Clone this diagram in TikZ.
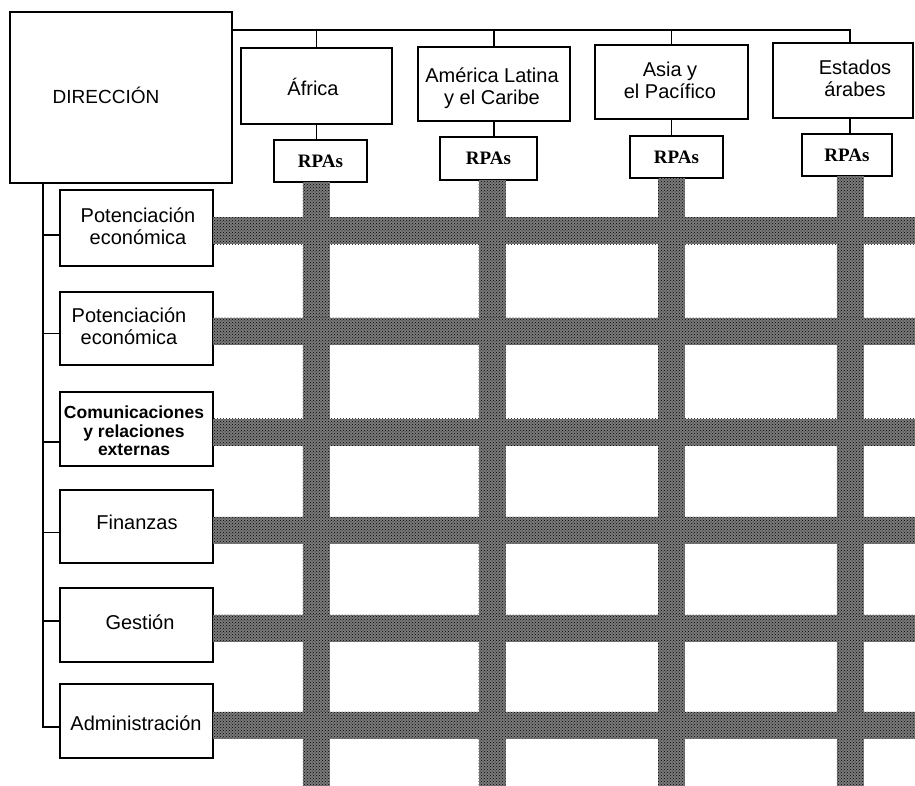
\documentclass[tikz,border=0pt]{standalone}
\usepackage{fontspec}
\setmainfont{Liberation Sans}
\newfontfamily\rpafont{Liberation Serif}
\usetikzlibrary{calc,patterns}

\tikzset{
  box/.style={draw, line width=1.5pt, inner sep=0pt, outer sep=0pt},
  conn/.style={line width=1.2pt},
  lbl/.style={inner sep=0pt, align=center, font=\fontsize{20}{22}\selectfont},
  rpa/.style={box, font=\rpafont\bfseries\fontsize{19}{21}\selectfont},
  band/.style={fill=black!52, draw=none},
  grain/.style={pattern=crosshatch dots, pattern color=black}
}

\begin{document}
\begin{tikzpicture}[x=1pt,y=-1pt]
\useasboundingbox (0,0) rectangle (915,786);

% ---- top row: direction and regional bureaus
\node[box, minimum width=222pt, minimum height=171pt] (dir) at (121,97.5) {};
\node[lbl, font=\fontsize{19}{21}\selectfont] (tdir) at (106,95) {DIRECCIÓN};

\node[box, minimum width=151pt, minimum height=76pt] (afr) at (316.5,86) {};
\node[box, minimum width=152pt, minimum height=74pt] (alc) at (494,84) {};
\node[box, minimum width=153pt, minimum height=74pt] (asp) at (671.5,82) {};
\node[box, minimum width=140pt, minimum height=75pt] (est) at (843,80.5) {};

\node[lbl] (tafr) at (313,87) {África};
\node[lbl] (talc) at (492,88) {América Latina\\y el Caribe};
\node[lbl] (tasp) at (670,80) {Asia y\\el Pacífico};
\node[lbl] (test) at (855,78) {Estados\\árabes};

% ---- RPAs boxes
\node[rpa, minimum width=93pt, minimum height=42pt] (rafr) at (320.5,161) {RPAs};
\node[rpa, minimum width=97pt, minimum height=43pt] (ralc) at (488.5,158.5) {RPAs};
\node[rpa, minimum width=93pt, minimum height=42pt] (rasp) at (676.5,157) {RPAs};
\node[rpa, minimum width=90pt, minimum height=42pt] (rest) at (847,155) {RPAs};

% ---- connectors of the top row
\coordinate (topR) at (850,30);
\draw[conn] (dir.east |- topR) -- (topR) -- (topR |- est.north);
\draw[conn] (afr.north) -- (afr.north |- topR);
\draw[conn] (alc.north) -- (alc.north |- topR);
\draw[conn] (asp.north) -- (asp.north |- topR);
\draw[conn] (afr.south) -- (afr.south |- rafr.north);
\draw[conn] (alc.south) -- (alc.south |- ralc.north);
\draw[conn] (asp.south) -- (asp.south |- rasp.north);
\draw[conn] (topR |- est.south) -- (topR |- rest.north);

% ---- thematic divisions
\node[box, minimum width=153pt, minimum height=76pt] (b1) at (136.5,228) {};
\node[box, minimum width=153pt, minimum height=73pt] (b2) at (136.5,328.5) {};
\node[box, minimum width=153pt, minimum height=74pt] (b3) at (136.5,429) {};
\node[box, minimum width=153pt, minimum height=73pt] (b4) at (136.5,526.5) {};
\node[box, minimum width=153pt, minimum height=74pt] (b5) at (136.5,625) {};
\node[box, minimum width=153pt, minimum height=74pt] (b6) at (136.5,721) {};

\node[lbl] (tb1) at (138,226) {Potenciación\\económica};
\node[lbl] (tb2) at (129,326) {Potenciación\\económica};
\node[lbl, font=\bfseries\fontsize{17.5}{18.5}\selectfont] (tb3) at (134,431) {Comunicaciones\\y relaciones\\externas};
\node[lbl] (tb4) at (137,522) {Finanzas};
\node[lbl] (tb5) at (140,622) {Gestión};
\node[lbl] (tb6) at (136,723) {Administración};

% ---- trunk from the direction box to each division
\coordinate (trunk) at (43,183);
\path (b1.west) ++(0,7) coordinate (j1);
\path (b2.west) ++(0,5) coordinate (j2);
\path (b3.west) ++(0,13) coordinate (j3);
\path (b4.west) ++(0,6) coordinate (j4);
\path (b5.west) ++(0,-4) coordinate (j5);
\path (b6.west) ++(0,6) coordinate (j6);
\draw[conn] (trunk) -- (trunk |- j6) -- (j6);
\foreach \j in {j1,j2,j3,j4,j5}
  \draw[conn] (trunk |- \j) -- (\j);

% ---- matrix grid: regional columns and thematic rows
\foreach \r/\x in {rafr/316, ralc/492, rasp/671, rest/850} {
  \path[band] (\x-13.5,0 |- \r.south) rectangle (\x+13.5,786);
  \path[grain] (\x-13.5,0 |- \r.south) rectangle (\x+13.5,786);
}
\foreach \b/\y in {b1/231, b2/331, b3/432, b4/530, b5/628, b6/725} {
  \path[band] (\b.east |- 0,\y-13.5) rectangle (915,\y+13.5);
  \path[grain] (\b.east |- 0,\y-13.5) rectangle (915,\y+13.5);
}
\end{tikzpicture}
\end{document}
